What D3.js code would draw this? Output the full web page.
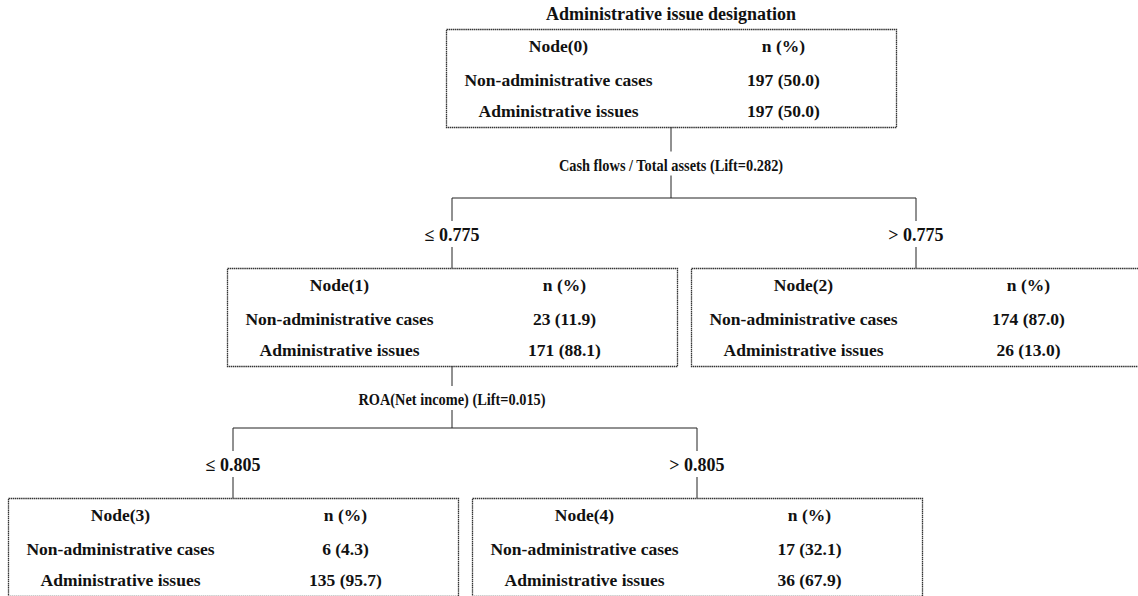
<!DOCTYPE html>
<html><head><meta charset="utf-8">
<script src="https://cdn.jsdelivr.net/npm/d3@7"></script>
<style>html,body{margin:0;padding:0;background:#fff;overflow:hidden}
svg text{font-family:"Liberation Serif","Times New Roman",serif;font-weight:bold;fill:#111}</style>
</head><body>
<svg id="chart" width="1138" height="596"></svg>
<script>
// ---- data ----
const title = "Administrative issue designation";
const nodeIds = [0, 1, 2, 3, 4];
const parentIds = [null, 0, 0, 1, 1];
const nonAdminN = [197, 23, 174, 6, 17];
const nonAdminPct = ["50.0", "11.9", "87.0", "4.3", "32.1"];
const adminN = [197, 171, 26, 135, 36];
const adminPct = ["50.0", "88.1", "13.0", "95.7", "67.9"];
const splitLabels = ["Cash flows / Total assets (Lift=0.282)", "ROA(Net income) (Lift=0.015)", null, null, null];
const branchLabels = [null, "\u2264 0.775", "> 0.775", "\u2264 0.805", "> 0.805"];
const rowLabels = ["Non-administrative cases", "Administrative issues"];
const headerRight = "n (%)";

// ---- layout ----
const svg = d3.select("#chart");
const boxW = 450, boxH = 98;
const levelTops = [29, 268, 498];
const skew = 13;

const table = nodeIds.map((id, i) => ({id, parent: parentIds[i]}));
const root = d3.stratify().id(d => d.id).parentId(d => d.parent)(table);
d3.tree().nodeSize([1, 1]).separation(() => 1)(root);

const x = d3.scaleLinear().domain([0, 1]).range([671, 671 + 464]);
const yTop = d3.scaleOrdinal().domain([0, 1, 2]).range(levelTops);
const cx = d => x(d.x) + d.depth * skew;

const g = svg.append("g");

// title
g.append("text").attr("x", cx(root)).attr("y", yTop(0) - 9)
  .attr("text-anchor", "middle").attr("font-size", 18).text(title);

const line = (x1, y1, x2, y2) => g.append("line").attr("x1", x1).attr("y1", y1)
  .attr("x2", x2).attr("y2", y2).attr("stroke", "#222").attr("stroke-width", 1);

// connectors
root.each(p => {
  if (!p.children) return;
  const i = +p.id;
  const B = yTop(p.depth) + boxH;
  const T = yTop(p.depth + 1);
  const H = T - 70;
  const lc = (B + H) / 2 + 2;
  const px = cx(p);
  line(px, B, px, lc - 13);
  g.append("text").attr("transform", `translate(${px},${lc + 6}) scale(0.82,1)`)
    .attr("text-anchor", "middle").attr("font-size", 17.5).text(splitLabels[i]);
  line(px, lc + 11, px, H);
  const xs = p.children.map(cx);
  line(d3.min(xs), H, d3.max(xs), H);
  p.children.forEach(c => {
    const ccx = cx(c);
    line(ccx, H, ccx, H + 23);
    g.append("text").attr("x", ccx).attr("y", T - 27).attr("text-anchor", "middle")
      .attr("font-size", 18).text(branchLabels[+c.id]);
    line(ccx, T - 21, ccx, T);
  });
});

// node boxes
root.each(d => {
  const i = +d.id;
  const left = cx(d) - boxW / 2;
  const top = yTop(d.depth);
  const ng = g.append("g").attr("transform", `translate(${left},${top})`);
  ng.append("rect").attr("x", 0.5).attr("y", 0.5).attr("width", boxW).attr("height", boxH)
    .attr("fill", "none").attr("stroke", "#333").attr("stroke-width", 1.3)
    .attr("stroke-dasharray", "1.5,0.6");
  const rows = [
    [`Node(${i})`, headerRight],
    [rowLabels[0], `${nonAdminN[i]} (${nonAdminPct[i]})`],
    [rowLabels[1], `${adminN[i]} (${adminPct[i]})`]
  ];
  const rowY = [17, 51, 82];
  rows.forEach((r, k) => {
    [0.25, 0.75].forEach((f, c) => {
      ng.append("text").attr("x", boxW * f).attr("y", rowY[k] + 6)
        .attr("text-anchor", "middle").attr("font-size", 17.5).text(r[c]);
    });
  });
});
</script>
</body></html>
